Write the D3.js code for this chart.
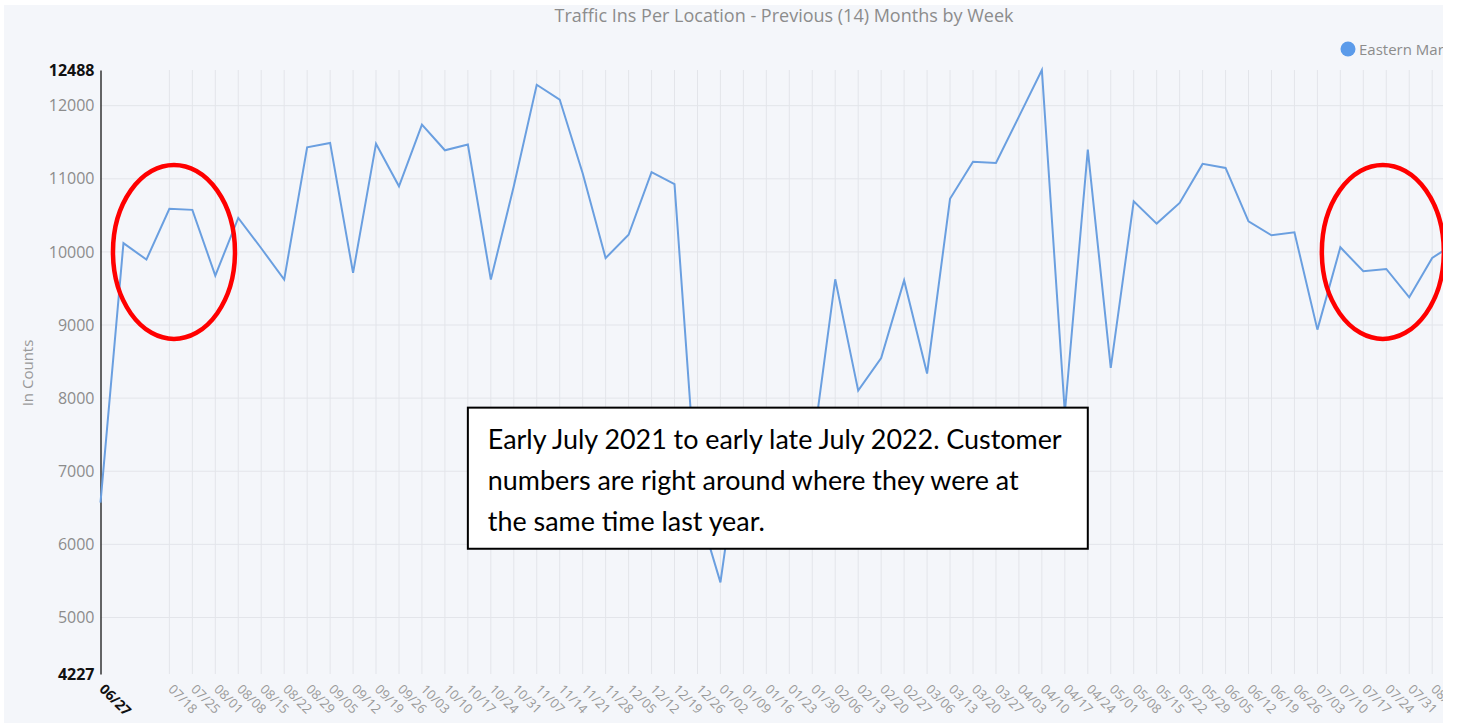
<!DOCTYPE html>
<html>
<head>
<meta charset="utf-8">
<script src="https://cdn.jsdelivr.net/npm/d3@7/dist/d3.min.js"></script>
<style>
  body { margin: 0; background: #fff; }
  svg { display: block; font-family: "Open Sans", sans-serif; }
</style>
</head>
<body>
<svg id="chart" width="1458" height="723"></svg>
<script>
// week labels (Sunday of each week)
const weeks = ['06/27', '07/04', '07/11', '07/18', '07/25', '08/01', '08/08', '08/15', '08/22', '08/29',
  '09/05', '09/12', '09/19', '09/26', '10/03', '10/10', '10/17', '10/24', '10/31', '11/07',
  '11/14', '11/21', '11/28', '12/05', '12/12', '12/19', '12/26', '01/02', '01/09', '01/16',
  '01/23', '01/30', '02/06', '02/13', '02/20', '02/27', '03/06', '03/13', '03/20', '03/27',
  '04/03', '04/10', '04/17', '04/24', '05/01', '05/08', '05/15', '05/22', '05/29', '06/05',
  '06/12', '06/19', '06/26', '07/03', '07/10', '07/17', '07/24', '07/31', '08/07', '08/14'];

// Eastern Market weekly traffic ins
const trafficIns = [6570, 10120, 9895, 10590, 10575, 9676, 10465, 10050, 9621, 11431,
  11491, 9713, 11480, 10897, 11741, 11390, 11468, 9621, 10897, 12286,
  12084, 11077, 9916, 10234, 11091, 10927, 6530, 5480, 7700, 7400,
  7100, 7270, 9625, 8103, 8548, 9610, 8337, 10726, 11232, 11217,
  11851, 12488, 7800, 11400, 8413, 10692, 10387, 10670, 11204, 11149,
  10419, 10227, 10268, 8937, 10063, 9735, 9767, 9379, 9918, 10120];

const yTicks = [5000, 6000, 7000, 8000, 9000, 10000, 11000, 12000];
const yMin = 4227;
const yMax = 12488;

const title = 'Traffic Ins Per Location - Previous (14) Months by Week';
const seriesName = 'Eastern Market';
const yTitle = 'In Counts';
const note = ['Early July 2021 to early late July 2022. Customer',
  'numbers are right around where they were at',
  'the same time last year.'];

const svg = d3.select('#chart');
const W = 1443; // chart is cut at the right edge

svg.append('rect')
  .attr('x', 4).attr('y', 5)
  .attr('width', W - 4).attr('height', 723 - 5)
  .attr('fill', '#f4f6fa');

svg.append('defs').append('clipPath').attr('id', 'clip')
  .append('rect').attr('x', 0).attr('y', 0).attr('width', W).attr('height', 723);

const root = svg.append('g').attr('clip-path', 'url(#clip)');

const x = d3.scaleLinear().domain([0, 58]).range([100.5, 1432.2]);
const y = d3.scaleLinear().domain([yMin, yMax]).range([674, 70]);

// title
root.append('text')
  .attr('x', 784).attr('y', 22)
  .attr('text-anchor', 'middle')
  .attr('fill', '#8c8c8c')
  .style('font-size', '18px')
  .text(title);

// horizontal grid
root.append('g')
  .selectAll('line')
  .data(yTicks)
  .join('line')
  .attr('x1', x(0)).attr('x2', W)
  .attr('y1', d => y(d)).attr('y2', d => y(d))
  .attr('stroke', '#e3e5ea')
  .attr('stroke-width', 1);

// vertical grid (labels 1 and 2 hidden behind the first bold label)
const shown = weeks.map((w, i) => i).filter(i => i > 2);
root.append('g')
  .selectAll('line')
  .data(shown)
  .join('line')
  .attr('x1', i => x(i)).attr('x2', i => x(i))
  .attr('y1', y(yMax)).attr('y2', y(yMin))
  .attr('stroke', '#e3e5ea')
  .attr('stroke-width', 1);

// y axis
const yAxis = root.append('g')
  .attr('transform', `translate(${x(0)},0)`)
  .call(d3.axisLeft(y).tickValues([yMin, ...yTicks, yMax]).tickSize(0).tickPadding(6).tickFormat(d3.format('d')));
yAxis.select('.domain').attr('stroke', '#333').attr('stroke-width', 1.5);
yAxis.selectAll('text')
  .style('font-family', '"Open Sans", sans-serif')
  .style('font-size', '16px')
  .attr('fill', d => (d === yMin || d === yMax) ? '#111' : '#8c8c8c')
  .style('font-weight', d => (d === yMin || d === yMax) ? 'bold' : 'normal');

root.append('text')
  .attr('transform', 'translate(33,373) rotate(-90)')
  .attr('text-anchor', 'middle')
  .attr('fill', '#999')
  .style('font-size', '15px')
  .text(yTitle);

// x labels
root.append('g')
  .selectAll('text')
  .data([0, ...shown])
  .join('text')
  .attr('transform', i => `translate(${x(i) - 2},${690}) rotate(45)`)
  .attr('fill', i => i === 0 ? '#111' : '#999')
  .style('font-size', i => i === 0 ? '14px' : '13px')
  .style('font-weight', i => i === 0 ? 'bold' : 'normal')
  .text(i => weeks[i]);

// line
const line = d3.line()
  .x((d, i) => x(i))
  .y(d => y(d));

root.append('path')
  .datum(trafficIns)
  .attr('fill', 'none')
  .attr('stroke', '#6a9fe0')
  .attr('stroke-width', 2)
  .attr('stroke-linejoin', 'miter')
  .attr('d', line);

// legend
root.append('circle')
  .attr('cx', 1348).attr('cy', 49).attr('r', 7.5)
  .attr('fill', '#5b9bea');
root.append('text')
  .attr('x', 1359).attr('y', 55)
  .attr('fill', '#8c8c8c')
  .style('font-size', '15px')
  .text(seriesName);

// annotations: circled periods and note box
const circled = [{ i: 3.2, v: 10000 }, { i: 55.85, v: 10000 }];
root.append('g')
  .selectAll('ellipse')
  .data(circled)
  .join('ellipse')
  .attr('cx', d => x(d.i)).attr('cy', d => y(d.v))
  .attr('rx', 61).attr('ry', 87)
  .attr('fill', 'none')
  .attr('stroke', '#f00')
  .attr('stroke-width', 4.5);

const box = { i0: 16, i1: 43, v0: 7870, v1: 5940 };
root.append('rect')
  .attr('x', x(box.i0)).attr('y', y(box.v0))
  .attr('width', x(box.i1) - x(box.i0))
  .attr('height', y(box.v1) - y(box.v0))
  .attr('fill', '#fff')
  .attr('stroke', '#000')
  .attr('stroke-width', 2);

const noteText = root.append('g')
  .selectAll('text')
  .data(note)
  .join('text')
  .attr('x', x(box.i0) + 20)
  .attr('y', (d, k) => y(box.v0) + 41 + k * 41)
  .attr('fill', '#000')
  .style('font-family', 'Lato, "Open Sans", sans-serif')
  .style('font-size', '24px')
  .text(d => d);

// fit note font to the box width like the reference
const w0 = noteText.nodes()[0].getComputedTextLength();
noteText.style('font-size', (24 * 574 / w0) + 'px');
</script>
</body>
</html>
